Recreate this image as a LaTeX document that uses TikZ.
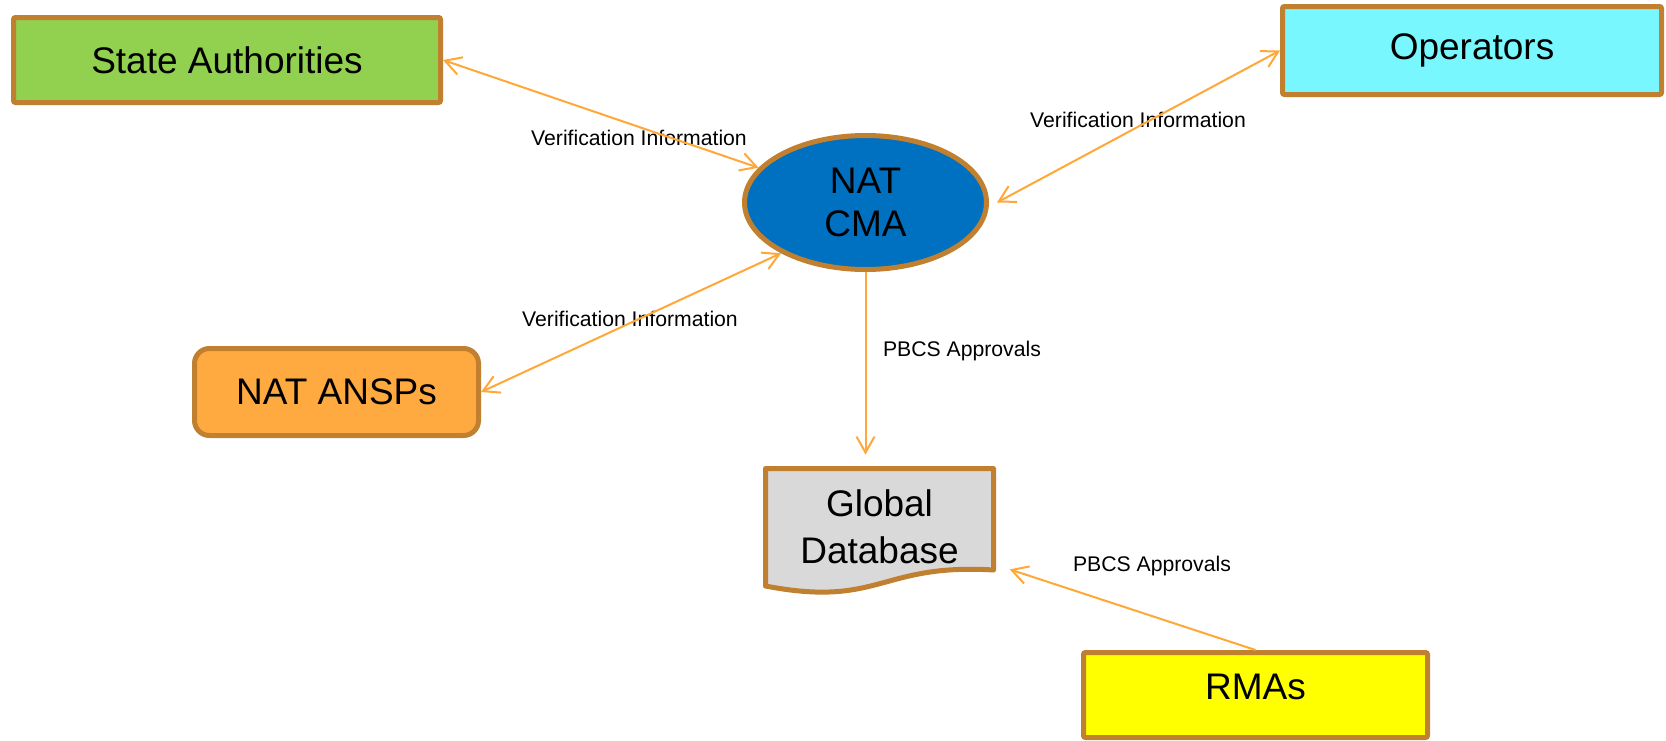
\documentclass[tikz,border=0pt]{standalone}
\usepackage{fontspec}
\setmainfont{Liberation Sans}
\usetikzlibrary{arrows.meta, shapes.geometric}

\definecolor{bordure}{RGB}{192,128,48}
\definecolor{fleches}{RGB}{255,168,56}
\definecolor{vert}{RGB}{146,208,80}
\definecolor{turquoise}{RGB}{120,247,255}
\definecolor{bleu}{RGB}{0,112,192}
\definecolor{orangeclair}{RGB}{255,170,64}
\definecolor{gris}{RGB}{217,217,217}
\definecolor{jaune}{RGB}{255,255,0}

\begin{document}
\begin{tikzpicture}[x=0.5pt, y=-0.5pt]
		\tikzstyle{boite}=[draw=bordure, line width=2.5pt, rounded corners=1pt, inner sep=0pt, align=center, font=\fontsize{18.5}{23.5}\selectfont]
		\tikzstyle{fleche}=[>={Straight Barb[length=8pt,width=9pt]}, color=fleches, line width=1pt]
		\tikzstyle{etiquette}=[inner sep=0pt, font=\fontsize{10.6}{12}\selectfont]
		\fill[white] (0,0) rectangle (1666,740);
		\useasboundingbox (0,0) rectangle (1666,740);

		% base de donnees
		\filldraw[fill=gris, draw=bordure, line width=2.5pt, line join=round] (765.5,468.5) -- (993.5,468.5) -- (993.5,570) .. controls (880,563) and (880,608) .. (765.5,586) -- cycle;
		\node[inner sep=0pt, align=center, font=\fontsize{18.5}{23.7}\selectfont, minimum width=116.5pt, minimum height=61pt] (db) at (879.5,527) {Global\\Database};

		% boites
		\node[boite, fill=vert, minimum width=213.5pt, minimum height=42.5pt] (sa) at (227,60) {State Authorities};
		\node[boite, fill=turquoise, minimum width=189.5pt, minimum height=44pt] (op) at (1472,50.5) {Operators};
		\node[boite, fill=orangeclair, rounded corners=7.5pt, minimum width=142pt, minimum height=43.5pt] (ansp) at (336.5,392) {NAT ANSPs};
		\node[boite, fill=jaune, text depth=8pt, minimum width=172pt, minimum height=42.5pt] (rma) at (1255.5,695) {RMAs};
		\node[boite, ellipse, fill=bleu, font=\fontsize{18.5}{21.7}\selectfont, minimum width=121pt, minimum height=67pt] (cma) at (865.5,202.5) {NAT\\CMA};

		% etiquettes
		\node[etiquette] (vi1) at (639,138) {Verification Information};
		\node[etiquette] (vi2) at (1138,120) {Verification Information};
		\node[etiquette] (vi3) at (630,319) {Verification Information};
		\node[etiquette] (pa1) at (962,351) {PBCS Approvals};
		\node[etiquette] (pa2) at (1152,566) {PBCS Approvals};

		% liens
		\draw[fleche, <->] (sa.east) -- (cma.162);
		\draw[fleche, <->] (op.west) -- ([xshift=4pt]cma.east);
		\draw[fleche, <->] (ansp.east) -- (cma.211);
		\draw[fleche, ->, shorten >=5.5pt] (cma.south) -- (cma.south |- db.north);
		\draw[fleche, ->, shorten >=7pt] (rma.north) -- (db.-18);
	\end{tikzpicture}
\end{document}
